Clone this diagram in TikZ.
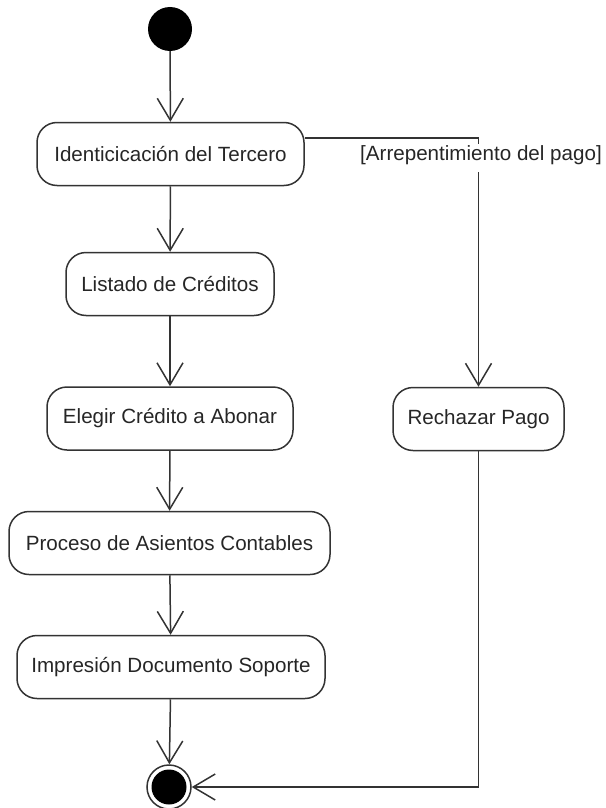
\documentclass[tikz,border=0pt]{standalone}
\usepackage{fontspec}
\setmainfont{Liberation Sans}
\usetikzlibrary{arrows.meta}
\begin{document}
\begin{tikzpicture}[x=1pt,y=-1pt,
  ln/.style={draw=black!80, line width=1.5pt},
  act/.style={ln, rectangle, rounded corners=20pt, minimum height=63pt,
    inner sep=0pt, font=\fontsize{20.6pt}{24pt}\selectfont, text=black!85},
  flow/.style={ln, -{Straight Barb[length=22pt,width=26pt]}},
  guard/.style={fill=white, inner sep=0pt, anchor=base, text height=16pt,
    text depth=12pt, font=\fontsize{20.6pt}{24pt}\selectfont, text=black!85},
]
\useasboundingbox (0,0) rectangle (605,808);

% initial and final states
\node[circle, fill=black, minimum size=44pt, inner sep=0pt] (start) at (170,29) {};
\node[circle, draw=black!80, line width=1.5pt, minimum size=44pt, inner sep=0pt] (end) at (169,787) {};
\fill[black] (end.center) circle (17.5pt);

% activities
\node[act, minimum width=267pt] (ident) at (170.5,154) {Identicicación del Tercero};
\node[act, minimum width=208pt] (lista) at (170,284) {Listado de Créditos};
\node[act, minimum width=246pt] (elegir) at (170,418.5) {Elegir Crédito a Abonar};
\node[act, minimum width=321pt] (asientos) at (169.5,543) {Proceso de Asientos Contables};
\node[act, minimum width=308pt] (impr) at (171,667) {Impresión Documento Soporte};
\node[act, minimum width=171pt] (rech) at (478.5,419) {Rechazar Pago};

% main flow
\draw[flow] (start) -- (ident);
\draw[flow] (ident) -- (lista);
\draw[flow] (lista) -- (elegir);
\draw[flow] (elegir) -- (asientos);
\draw[flow] (asientos) -- (impr);
\draw[flow] (impr) -- (end);

% rejection branch
\coordinate (turn) at (478.5,138);
\draw[flow] (ident.east |- turn) -- (turn) -- (rech.north);
\node[guard] (grd) at (481,160) {[Arrepentimiento del pago]};
\draw[flow] (rech.south) |- (end.east);
\end{tikzpicture}
\end{document}
